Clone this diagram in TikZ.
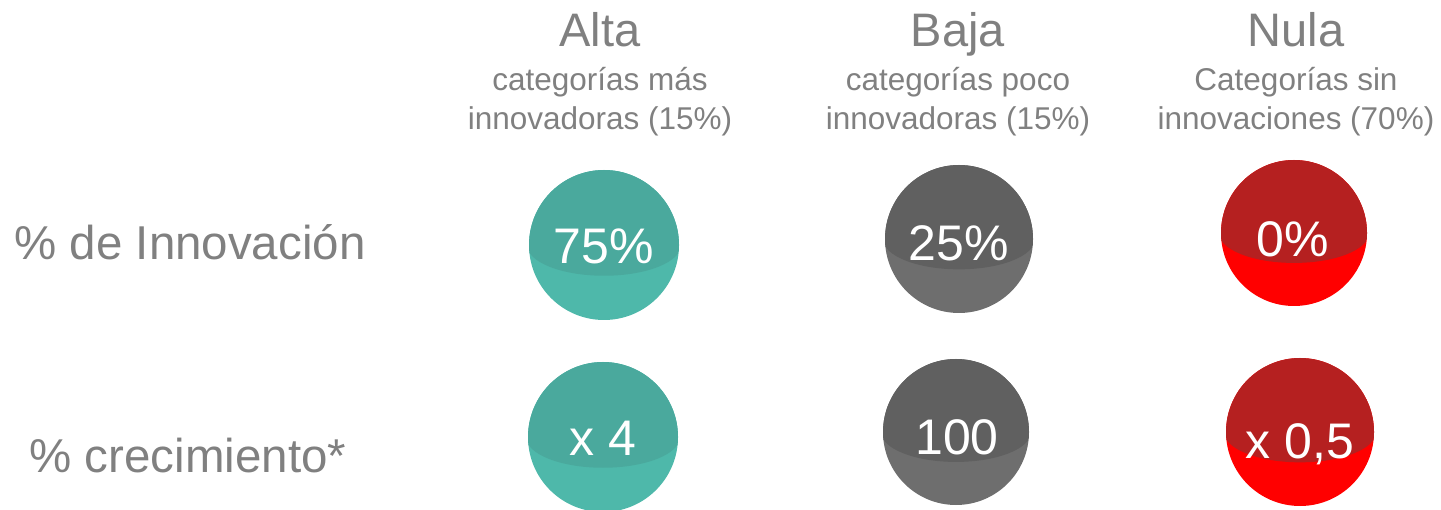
\documentclass[tikz,border=0pt]{standalone}
\usepackage{fontspec}
\setmainfont{Liberation Sans}
\usepackage{tikz}

\definecolor{gristexto}{HTML}{808080}
\definecolor{tealosc}{HTML}{4AA99D}
\definecolor{tealcla}{HTML}{4EB8AA}
\definecolor{grisosc}{HTML}{606060}
\definecolor{griscla}{HTML}{6E6E6E}
\definecolor{rojoosc}{HTML}{B52020}
\definecolor{rojocla}{HTML}{FF0000}

\begin{document}
\begin{tikzpicture}
    [
        x = 1pt, y = 1pt,
        titulo/.style   = {anchor=base, text=gristexto, inner sep=0pt, font=\fontsize{47}{56}\selectfont},
        subtitulo/.style = {anchor=base, text=gristexto, inner sep=0pt, font=\fontsize{31.5}{38}\selectfont},
        fila/.style     = {anchor=base, text=gristexto, inner sep=0pt, font=\fontsize{47.5}{57}\selectfont},
        cifra/.style    = {text=white, inner sep=0pt, text height=36pt, text depth=0pt, font=\fontsize{50}{60}\selectfont},
        bola/.style n args = {3}{circle, inner sep=0pt, minimum size=#3, fill=#2,
            path picture={\fill[#1] ([xshift=-2pt]path picture bounding box.west)
                arc[start angle=180, end angle=360, x radius=0.5*#3+2pt, y radius=0.205*#3]
                |- (path picture bounding box.north west) -- cycle;}}
    ]
    \useasboundingbox (0,0) rectangle (1441,509);

    % cabeceras
    \node [titulo] at (600,462) (alta) {Alta};
    \node [subtitulo] at (600,418) (altaA) {categorías más};
    \node [subtitulo] at (600,379) (altaB) {innovadoras (15\%)};
    \node [titulo] at (958,462) (baja) {Baja};
    \node [subtitulo] at (958,418) (bajaA) {categorías poco};
    \node [subtitulo] at (958,379) (bajaB) {innovadoras (15\%)};
    \node [titulo] at (1296,462) (nula) {Nula};
    \node [subtitulo] at (1296,418) (nulaA) {Categorías sin};
    \node [subtitulo] at (1296,379) (nulaB) {innovaciones (70\%)};

    % filas
    \node [fila] at (190,249) (innovacion) {\% de Innovación};
    \node [fila] at (188,36) (crecimiento) {\% crecimiento*};

    % bolas
    \node [bola={tealosc}{tealcla}{150pt}] at (604,264) (altaUno) {};
    \node [bola={grisosc}{griscla}{148pt}] at (959,270) (bajaUno) {};
    \node [bola={rojoosc}{rojocla}{146pt}] at (1294,276) (nulaUno) {};
    \node [bola={tealosc}{tealcla}{150pt}] at (603,72) (altaDos) {};
    \node [bola={grisosc}{griscla}{146pt}] at (956,77) (bajaDos) {};
    \node [bola={rojoosc}{rojocla}{148pt}] at (1300,77) (nulaDos) {};

    \node [cifra] at ([yshift=-1pt]altaUno) (altaUnoTxt) {75\%};
    \node [cifra] at ([yshift=-4pt]bajaUno) (bajaUnoTxt) {25\%};
    \node [cifra] at ([xshift=-1pt, yshift=-6pt]nulaUno) (nulaUnoTxt) {0\%};
    \node [cifra] at ([yshift=-1pt]altaDos) (altaDosTxt) {x 4};
    \node [cifra] at ([xshift=1pt, yshift=-5pt]bajaDos) (bajaDosTxt) {100};
    \node [cifra] at ([yshift=-9pt]nulaDos) (nulaDosTxt) {x 0,5};
\end{tikzpicture}
\end{document}
